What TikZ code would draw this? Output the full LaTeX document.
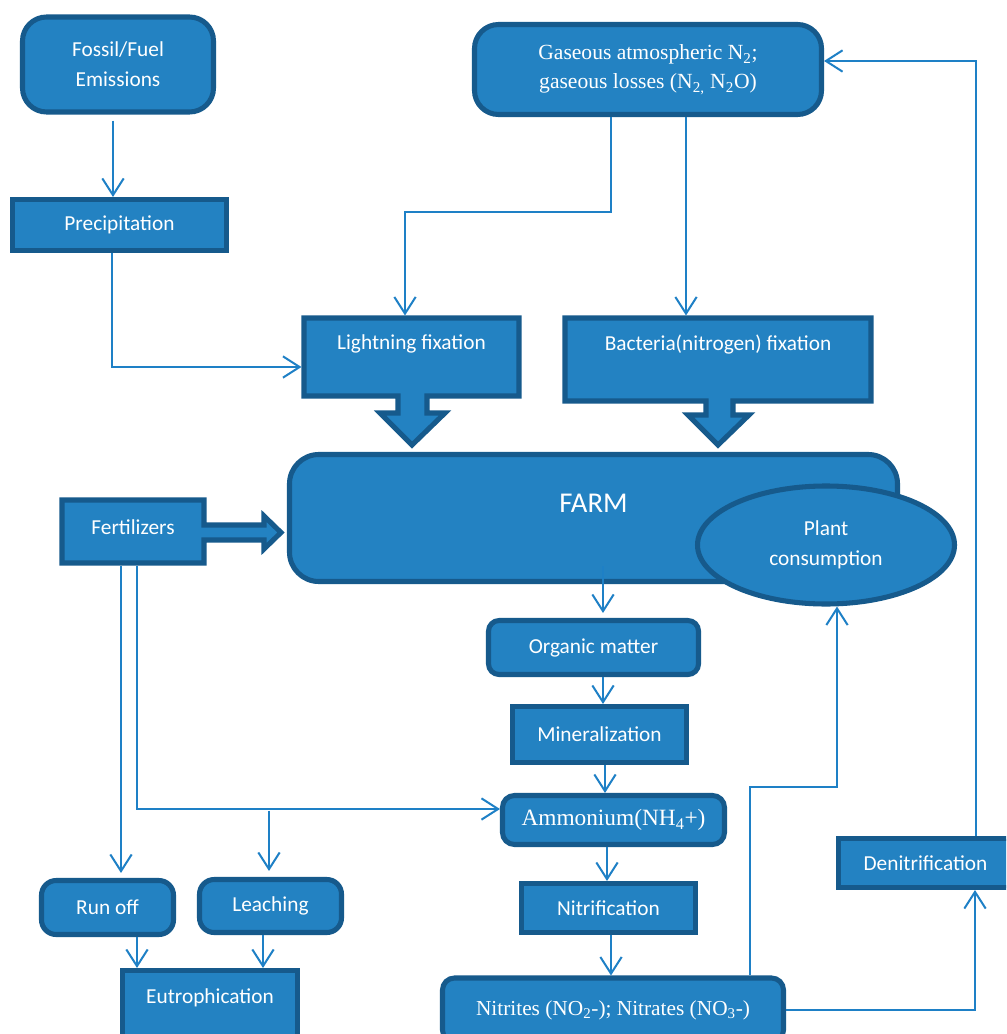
\documentclass[tikz,border=0pt]{standalone}
\usepackage{fontspec}
\setmainfont{Liberation Serif}
\newfontfamily\calfont{Carlito}
\usetikzlibrary{arrows.meta,calc,shapes.geometric}
\definecolor{boxfill}{RGB}{35,130,194}
\definecolor{boxline}{RGB}{22,90,140}
\definecolor{conncol}{RGB}{30,128,198}
\tikzset{
  base/.style={draw=boxline, fill=boxfill, line width=3.8pt, text=white, inner sep=0pt,
    align=center, font=\calfont\fontsize{16}{22.5}\selectfont},
  sqbox/.style={base},
  rbox/.style={base, rounded corners=#1}, rbox/.default=8pt,
  ovalbox/.style={base, ellipse},
  ghost/.style={base, draw=none, fill=none},
  sz/.style 2 args={minimum width={#1*0.75pt}, minimum height={#2*0.75pt}},
  lbl/.style={text=white, inner sep=0pt, align=center, font=\calfont\fontsize{16}{22.5}\selectfont},
  serif/.style={font=\rmfamily\fontsize{16}{22}\selectfont},
  callout/.style={draw=boxline, fill=boxfill, line width=3.8pt, line join=miter},
  conn/.style={draw=conncol, line width=1.5pt,
    -{Straight Barb[length=12.5pt,width=16pt,line width=1.5pt]}},
}
\begin{document}
\begin{tikzpicture}[x=0.75pt,y=-0.75pt]
\path[use as bounding box, fill=white] (0,0) rectangle (1006,1034);
\clip (0,0) rectangle (1006,1034);

% block-arrow shapes
\draw[callout] (304,318) -- (519,318) -- (519,396) -- (427,396) -- (427,413) -- (445,413)
  -- (412,445) -- (380,413) -- (398,413) -- (398,396) -- (304,396) -- cycle;
\node[ghost, sz={215}{78}] (light) at (411.5,357) {};
\node[lbl] (lightT) at ($(light.north)+(0,28)$) {Lightning fixation};

\draw[callout] (565,318) -- (871,318) -- (871,401) -- (733,401) -- (733,415) -- (749,415)
  -- (718,445) -- (688,415) -- (706,415) -- (706,401) -- (565,401) -- cycle;
\node[ghost, sz={306}{83}] (bact) at (718,359.5) {};
\node[lbl] (bactT) at ($(bact.north)+(0,29)$) {Bacteria(nitrogen) fixation};

\draw[callout] (62,500) -- (204,500) -- (204,525) -- (264,525) -- (264,516) -- (281,532.5)
  -- (264,549) -- (264,540) -- (204,540) -- (204,563) -- (62,563) -- cycle;
\node[ghost, sz={142}{63}] (fert) at (133,531.5) {};
\node[lbl] (fertT) at ($(fert.center)+(0,-4.5)$) {Fertilizers};

% boxes
\node[rbox=18pt, sz={191}{95}] (fossil) at (118,64.5) {Fossil/Fuel\\Emissions};
\node[sqbox, sz={214}{51}] (precip) at (119.5,225) {Precipitation};
\node[rbox=18pt, sz={347}{90}, serif, font=\rmfamily\fontsize{16.2}{21.75}\selectfont] (gas) at (648,69.5)
  {Gaseous atmospheric N\textsubscript{2};\\gaseous losses (N\textsubscript{2,} N\textsubscript{2}O)};
\node[rbox=22pt, sz={608}{127}] (farm) at (593.5,518) {};
\node[lbl, font=\calfont\fontsize{21.5}{24}\selectfont] (farmT) at ($(farm.north)+(0,51)$) {FARM};
\node[ovalbox, sz={257}{118}] (plant) at (826,545) {Plant\\consumption};
\node[rbox=8pt, sz={210}{54}] (organic) at (593.5,647.5) {Organic matter};
\node[sqbox, sz={174}{56}] (mineral) at (599.5,734.5) {Mineralization};
\node[rbox=9pt, sz={222}{49}, serif, font=\rmfamily\fontsize{17.5}{22}\selectfont] (ammon) at (613.5,820) {Ammonium(NH\textsubscript{4}+)};
\node[sqbox, sz={174}{49}] (nitrif) at (608.5,908) {Nitrification};
\node[rbox=9pt, sz={341}{64}, serif] (nitrites) at (613,1010)
  {Nitrites (NO\textsubscript{2}-); Nitrates (NO\textsubscript{3}-)};
\node[rbox=11pt, sz={132}{54}] (runoff) at (107.5,907.5) {Run off};
\node[rbox=11pt, sz={142}{53}] (leach) at (270.5,906) {Leaching};
\node[sqbox, sz={175}{77}] (eutro) at (210,1009) {};
\node[lbl] (eutroT) at ($(eutro.north)+(0,30)$) {Eutrophication};
\node[sqbox, sz={174}{49}] (denit) at (925.5,863) {Denitrification};

% connectors
\draw[conn] ($(fossil.south)+(-5,6)$) -- ($(precip.north)+(-6.5,0)$);
\draw[conn] ($(precip.south)+(-7.5,0)$) |- ($(light.west)+(0,10)$);
\draw[conn] ($(gas.south)+(-37,0)$) -- ++(0,95) -| ($(light.north)+(-6.5,0)$);
\draw[conn] ($(gas.south)+(38,0)$) -- ($(bact.north)+(-32,0)$);
\draw[conn] ($(fert.south)+(-12,0)$) -- ($(runoff.north)+(13.5,-5)$);
\draw[conn] ($(fert.south)+(4,0)$) |- ($(ammon.west)+(0,-11)$);
\coordinate (br) at ($(leach.north)+(-1.5,-66)$);
\draw[conn] (br) -- ($(leach.north)+(-1.5,-6)$);
\draw[conn] ($(runoff.south)+(29.5,0)$) -- ($(eutro.north)+(-73,0)$);
\draw[conn] ($(leach.south)+(-7.5,0)$) -- ($(eutro.north)+(53,0)$);
\draw[conn] ($(farm.south)+(9.5,-18)$) -- ($(organic.north)+(9.5,-5)$);
\draw[conn] ($(organic.south)+(9.5,0)$) -- ($(mineral.north)+(3.5,0)$);
\draw[conn] ($(mineral.south)+(5.5,0)$) -- ($(ammon.north)+(-8.5,0)$);
\draw[conn] ($(ammon.south)+(-6.5,0)$) -- ($(nitrif.north)+(-1.5,0)$);
\draw[conn] ($(nitrif.south)+(2.5,0)$) -- ($(nitrites.north)+(-2,0)$);
\draw[conn] ($(nitrites.north)+(137,0)$) -- ++(0,-188) -| ($(plant.south)+(11,0)$);
\draw[conn] (nitrites.east) -| ($(denit.south)+(49.5,0)$);
\draw[conn] ($(denit.north)+(50.5,0)$) |- ($(gas.east)+(0,-8.5)$);
\end{tikzpicture}
\end{document}
